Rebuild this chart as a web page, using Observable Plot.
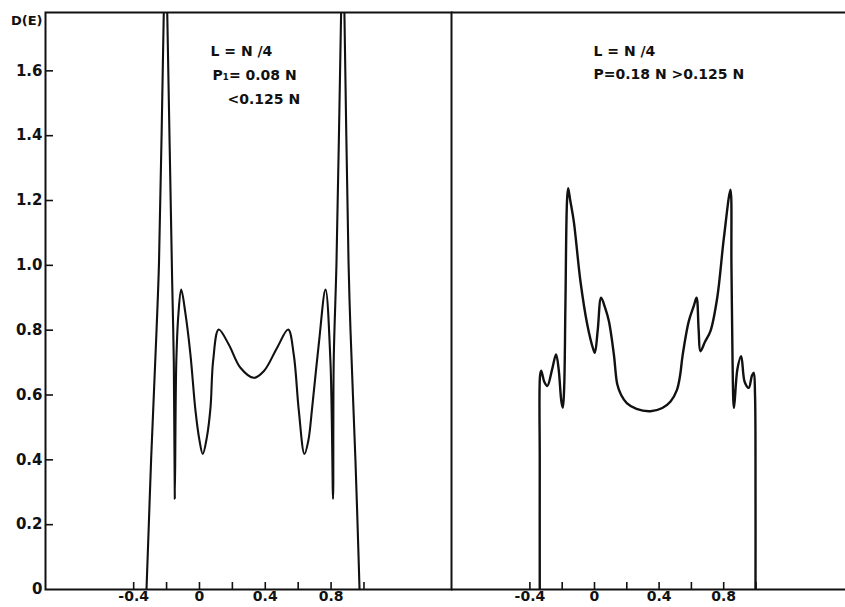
<!DOCTYPE html>
<html><head><meta charset="utf-8">
<script src="https://cdn.jsdelivr.net/npm/d3@7"></script>
<script src="https://cdn.jsdelivr.net/npm/@observablehq/plot@0.6"></script>
<style>
body{margin:0;background:#fff;}
#chart{display:flex;width:845px;height:607px;}
#chart svg{overflow:visible;}
</style></head><body><div id="chart"></div>
<script>
// Tick values
const yTicks = [0, 0.2, 0.4, 0.6, 0.8, 1.0, 1.2, 1.4, 1.6];
const xTicks = [-0.4, -0.2, 0, 0.2, 0.4, 0.6, 0.8, 1.0];
const xLabels = [-0.4, 0, 0.4, 0.8];
const yLabel = "D(E)";

// Left panel: L = N/4, P1 = 0.08 N < 0.125 N
const leftE = [-0.322, -0.308, -0.294, -0.261, -0.246, -0.217, -0.206, -0.196, -0.166, -0.156, -0.150, -0.141, -0.128, -0.111, -0.085, -0.055, -0.024, 0.000, 0.020, 0.045, 0.067, 0.083, 0.117, 0.178, 0.249, 0.330, 0.392, 0.472, 0.539, 0.573, 0.604, 0.638, 0.662, 0.685, 0.725, 0.766, 0.796, 0.812, 0.816, 0.833, 0.861, 0.872, 0.881, 0.906, 0.918, 0.948, 0.961, 0.973];
const leftD = [0, 0.20, 0.40, 0.80, 1.01, 1.78, 2.05, 1.78, 0.95, 0.70, 0.28, 0.70, 0.85, 0.925, 0.85, 0.725, 0.55, 0.46, 0.418, 0.47, 0.561, 0.705, 0.802, 0.756, 0.684, 0.653, 0.674, 0.746, 0.802, 0.725, 0.551, 0.418, 0.46, 0.561, 0.756, 0.925, 0.705, 0.279, 0.705, 1.012, 1.78, 2.06, 1.78, 1.012, 0.80, 0.40, 0.20, 0];

// Right panel: L = N/4, P = 0.18 N > 0.125 N
const rightE = [-0.339, -0.339, -0.337, -0.330, -0.310, -0.292, -0.262, -0.238, -0.222, -0.205, -0.196, -0.188, -0.180, -0.170, -0.163, -0.150, -0.128, -0.087, -0.045, -0.010, 0.002, 0.020, 0.041, 0.065, 0.089, 0.120, 0.141, 0.165, 0.200, 0.260, 0.347, 0.420, 0.471, 0.510, 0.530, 0.545, 0.584, 0.615, 0.632, 0.645, 0.656, 0.685, 0.718, 0.760, 0.801, 0.842, 0.848, 0.855, 0.860, 0.864, 0.885, 0.908, 0.930, 0.955, 0.975, 0.986, 0.994, 0.997, 0.997];
const rightD = [0, 0.40, 0.66, 0.675, 0.64, 0.628, 0.68, 0.725, 0.68, 0.58, 0.561, 0.62, 0.88, 1.20, 1.238, 1.20, 1.135, 0.951, 0.818, 0.745, 0.73, 0.80, 0.90, 0.87, 0.828, 0.725, 0.633, 0.600, 0.575, 0.557, 0.550, 0.560, 0.580, 0.615, 0.660, 0.720, 0.828, 0.875, 0.90, 0.80, 0.735, 0.765, 0.797, 0.90, 1.084, 1.233, 1.00, 0.70, 0.58, 0.56, 0.68, 0.72, 0.64, 0.622, 0.66, 0.669, 0.60, 0.30, 0];

const leftNotes = ["L = N /4", "P\u2081= 0.08 N", "<0.125 N"];
const rightNotes = ["L = N /4", "P=0.18 N >0.125 N"];

const yMax = 1.78;
const ink = "#111";
const fmt = d => d === 0 ? "0" : d.toFixed(1);
const style = {fontFamily: "'DejaVu Sans', sans-serif", fontSize: "14px", fontWeight: "bold", color: ink, background: "transparent", overflow: "visible"};
const rows = (E, D) => E.map((e, i) => ({e, d: D[i]}));

function axesX() {
  return [
    Plot.axisX(xTicks, {tickSize: -7, tickFormat: () => "", strokeWidth: 1.6, label: null}),
    Plot.axisX(xLabels, {tickSize: 0, tickPadding: 2, tickFormat: fmt, label: null, fontSize: 14})
  ];
}
function note(text, dx, dy) {
  return Plot.text([text], {frameAnchor: "top-left", dx, dy, textAnchor: "start", lineAnchor: "middle", fill: ink});
}

const left = Plot.plot({
  width: 451, height: 607,
  marginLeft: 45, marginRight: 0, marginTop: 12, marginBottom: 18,
  style,
  x: {domain: [-0.936, 1.532]},
  y: {domain: [0, yMax]},
  marks: [
    Plot.line(rows(leftE, leftD), {x: "e", y: "d", curve: "catmull-rom", stroke: ink, strokeWidth: 2.1, clip: true}),
    Plot.frame({stroke: ink, strokeWidth: 2}),
    Plot.axisY(yTicks.slice(1), {tickSize: -8, tickFormat: () => "", strokeWidth: 1.6, label: null}),
    Plot.axisY(yTicks, {tickSize: 0, tickPadding: 3, tickFormat: fmt, label: null, fontSize: 15}),
    ...axesX(),
    Plot.text([yLabel], {frameAnchor: "top-left", dx: -3, dy: 8, textAnchor: "end", lineAnchor: "middle", fill: ink, fontSize: 13}),
    note(leftNotes[0], 165, 39),
    note(leftNotes[1], 167, 63),
    note(leftNotes[2], 182, 87)
  ]
});

const right = Plot.plot({
  width: 394, height: 607,
  marginLeft: 0, marginRight: 0, marginTop: 12, marginBottom: 18,
  style,
  x: {domain: [-0.8854, 1.5542]},
  y: {domain: [0, yMax], axis: null},
  marks: [
    Plot.line(rows(rightE, rightD), {x: "e", y: "d", curve: "catmull-rom", stroke: ink, strokeWidth: 2.4, clip: true}),
    Plot.ruleY([0, yMax], {stroke: ink, strokeWidth: 2}),
    ...axesX(),
    note(rightNotes[0], 142, 39),
    note(rightNotes[1], 142, 62)
  ]
});

const chart = document.getElementById("chart");
chart.append(left, right);
</script></body></html>
